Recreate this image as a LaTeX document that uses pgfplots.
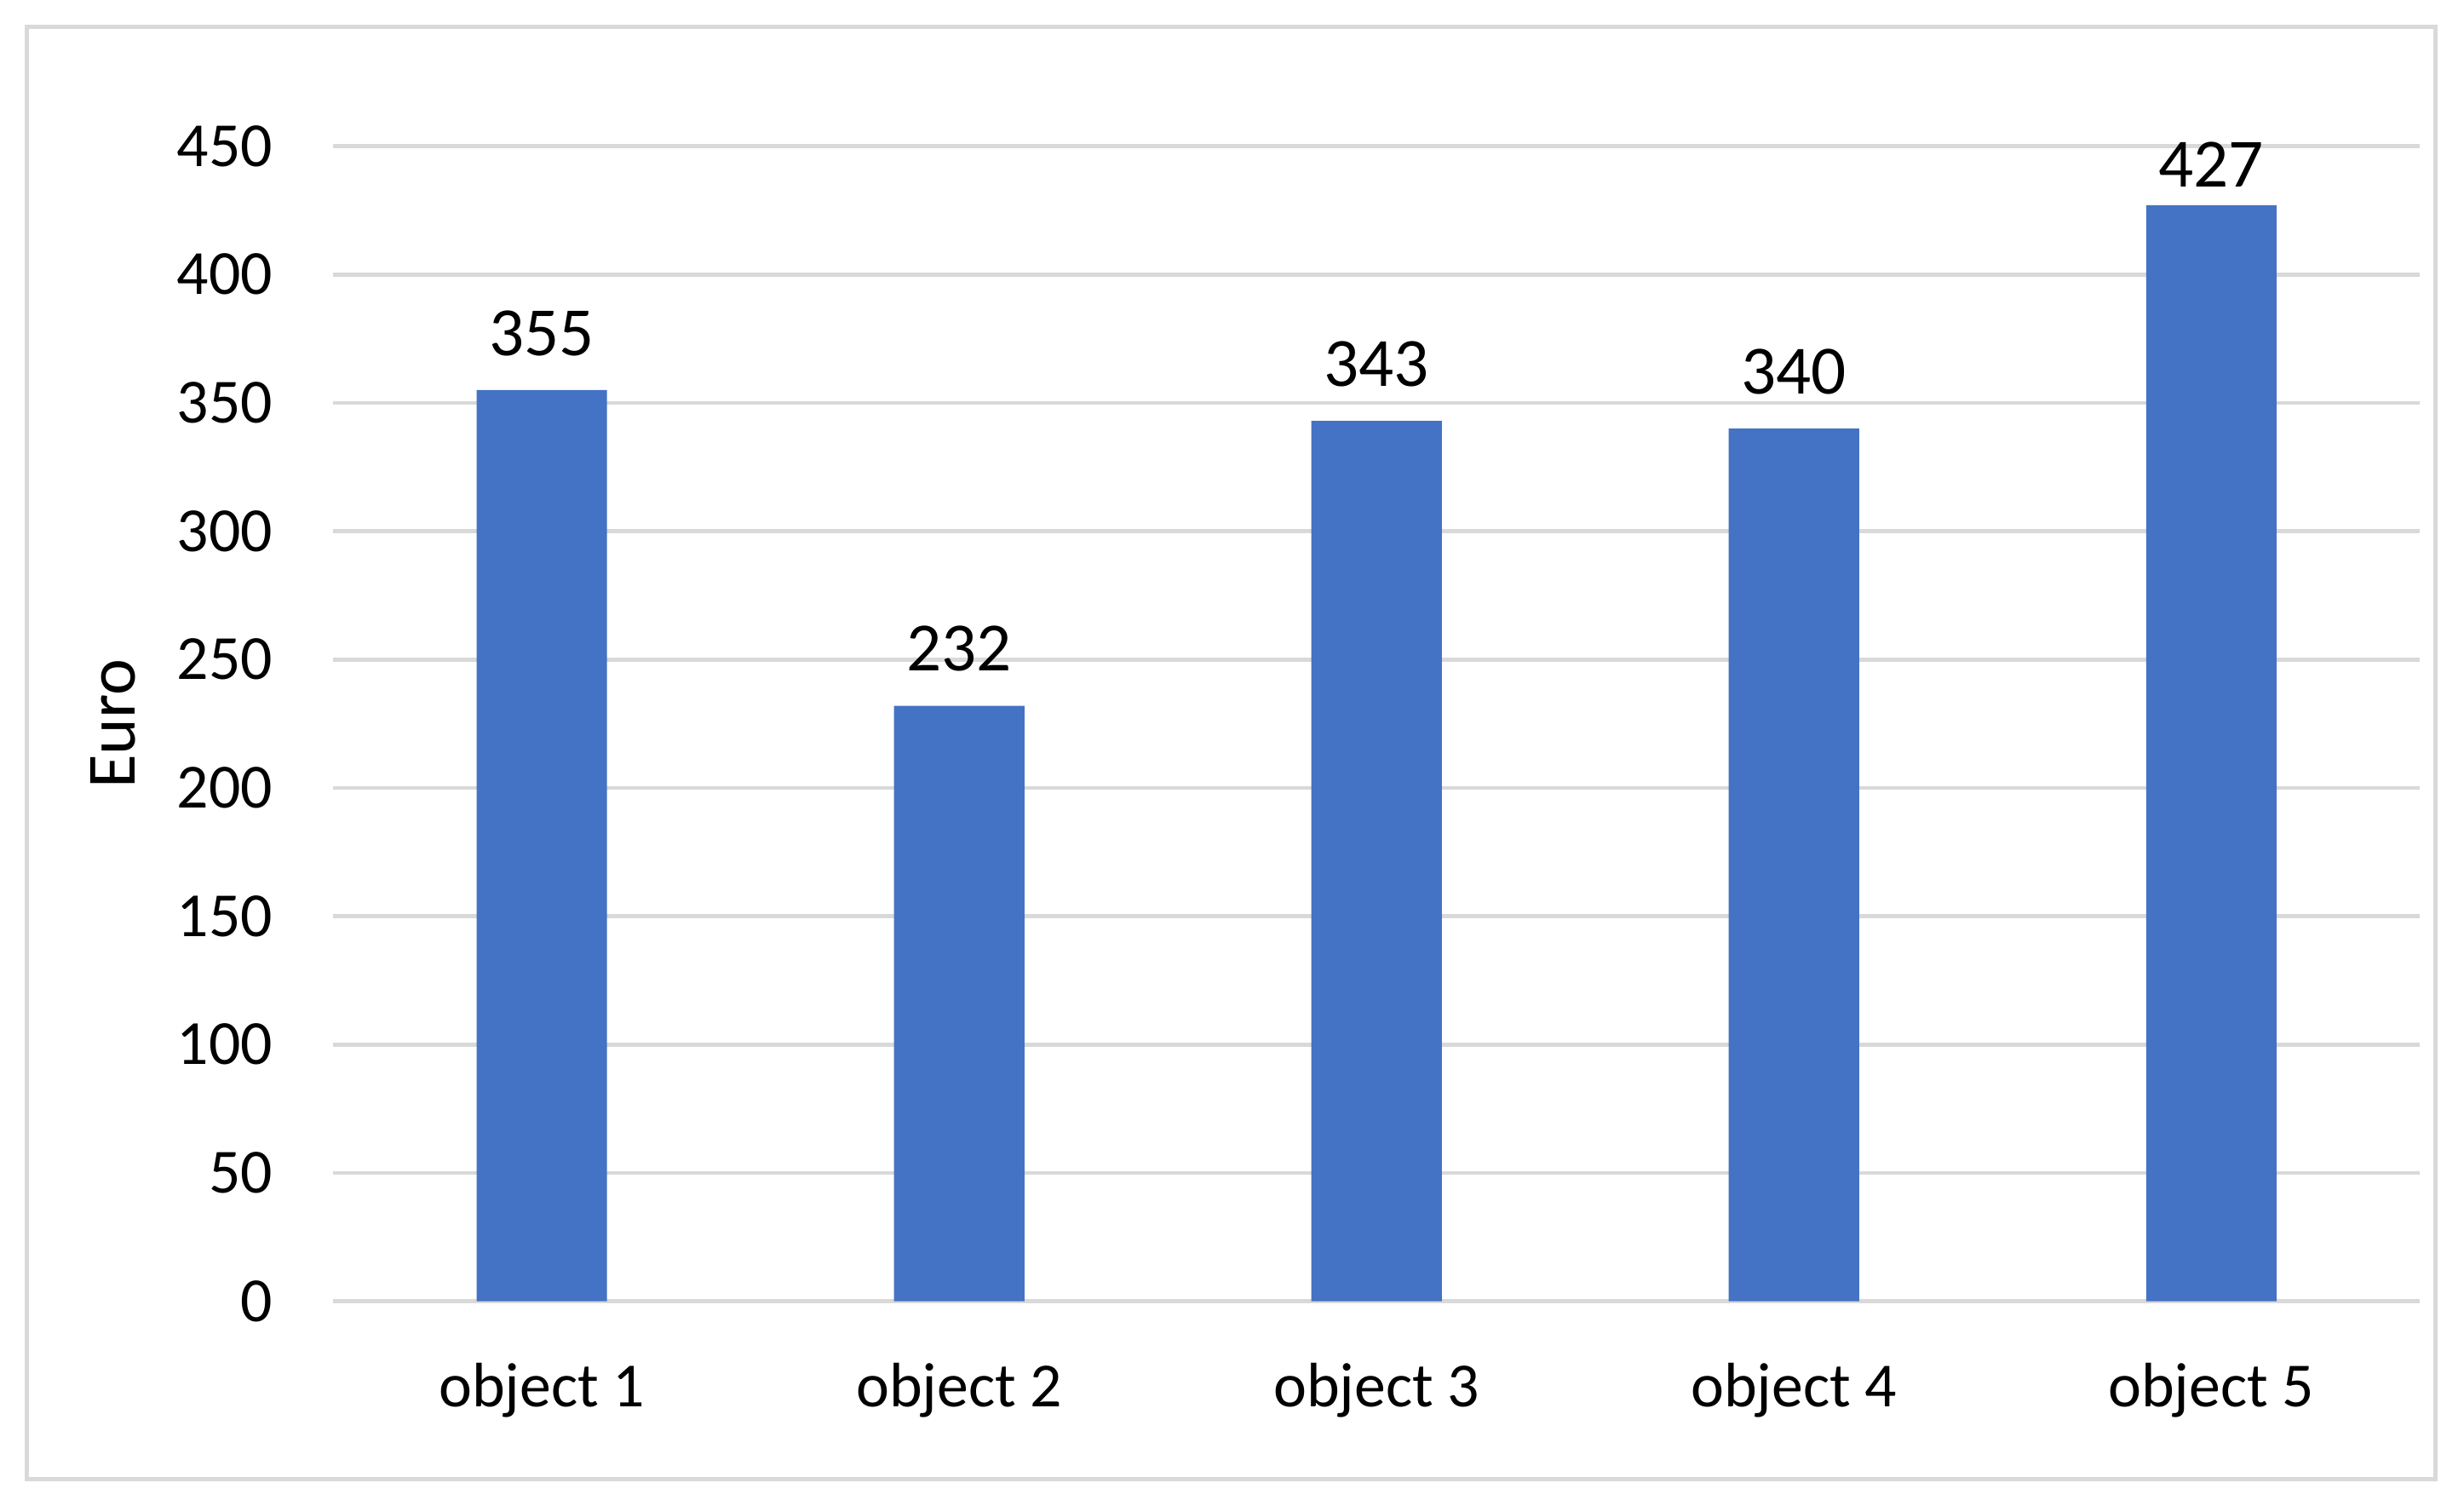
\documentclass[border=0pt]{standalone}
\usepackage{fontspec}
\setmainfont{Carlito}
\usepackage{pgfplots}
\pgfplotsset{compat=1.18}

\definecolor{barblue}{HTML}{4472C4}
\definecolor{gridgray}{HTML}{D9D9D9}

\begin{document}
\begin{tikzpicture}
\begin{axis}[
  name=ax,
  scale only axis,
  width=398.4pt, height=220.5pt,
  ybar, bar width=24.9pt,
  xmin=-0.5, xmax=4.5,
  ymin=0, ymax=450,
  xtick=data,
  xticklabels={object 1,object 2,object 3,object 4,object 5},
  ytick={0,50,...,450},
  axis line style={draw=none},
  major tick length=0pt,
  ymajorgrids,
  grid style={gridgray, line width=0.75pt},
  /pgf/number format/assume math mode=true,
  ticklabel style={font=\fontsize{12}{14}\selectfont},
  xticklabel style={yshift=-8.3pt},
  yticklabel style={xshift=-8pt},
  ylabel={Euro},
  ylabel style={font=\fontsize{13.2}{15}\selectfont,
    at={(axis description cs:-0.1054,0.5)}, anchor=center},
  nodes near coords,
  nodes near coords style={font=\fontsize{13.2}{15}\selectfont,
    anchor=south, inner sep=0pt, yshift=6.3pt, text=black},
  % label of the tallest bar is kept inside the plot area
  coordinate style/.condition={y>420}{yshift=-3pt},
]
\addplot[fill=barblue, draw=none] coordinates {
  (0,355) (1,232) (2,343) (3,340) (4,427)
};
\end{axis}
% chart frame
\draw[gridgray, line width=0.8pt]
  ([xshift=-58.5pt,yshift=-33.9pt]ax.south west) rectangle
  ([xshift=3pt,yshift=22.8pt]ax.north east);
\path ([xshift=-63.6pt,yshift=-39pt]ax.south west) rectangle
  ([xshift=8.4pt,yshift=27.9pt]ax.north east);
\end{tikzpicture}
\end{document}
